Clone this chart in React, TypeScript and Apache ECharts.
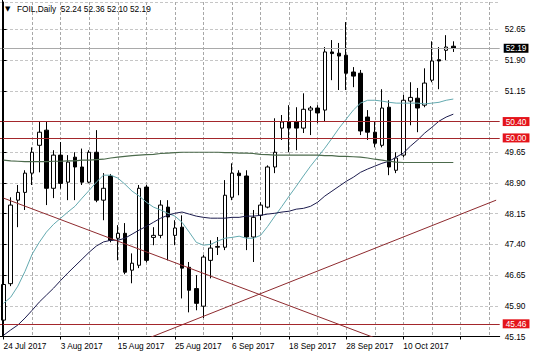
import React, { useEffect, useRef } from 'react';
import * as echarts from 'echarts';

const dates: string[] = [
  '24 Jul 2017', '25 Jul 2017', '26 Jul 2017', '27 Jul 2017', '28 Jul 2017', '31 Jul 2017',
  '1 Aug 2017', '2 Aug 2017', '3 Aug 2017', '4 Aug 2017', '7 Aug 2017', '8 Aug 2017', '9 Aug 2017',
  '10 Aug 2017', '11 Aug 2017', '14 Aug 2017', '15 Aug 2017', '16 Aug 2017', '17 Aug 2017', '18 Aug 2017',
  '21 Aug 2017', '22 Aug 2017', '23 Aug 2017', '24 Aug 2017', '25 Aug 2017', '28 Aug 2017', '29 Aug 2017',
  '30 Aug 2017', '31 Aug 2017', '1 Sep 2017', '4 Sep 2017', '5 Sep 2017', '6 Sep 2017', '7 Sep 2017',
  '8 Sep 2017', '11 Sep 2017', '12 Sep 2017', '13 Sep 2017', '14 Sep 2017', '15 Sep 2017', '18 Sep 2017',
  '19 Sep 2017', '20 Sep 2017', '21 Sep 2017', '22 Sep 2017', '25 Sep 2017', '26 Sep 2017', '27 Sep 2017',
  '28 Sep 2017', '29 Sep 2017', '2 Oct 2017', '3 Oct 2017', '4 Oct 2017', '5 Oct 2017', '6 Oct 2017',
  '9 Oct 2017', '10 Oct 2017', '11 Oct 2017', '12 Oct 2017', '13 Oct 2017', '16 Oct 2017', '17 Oct 2017',
  '18 Oct 2017', '19 Oct 2017',
];
// empty slots on the right side of the chart (chart shift)
const futureSlots: string[] = ['', '', '', '', '', ''];

const opens: number[] = [
  45.55, 46.44, 48.48, 48.67, 49.14, 49.82, 50.19, 48.77, 49.58, 48.92,
  49.53, 49.29, 48.92, 49.65, 48.48, 49.07, 47.55, 47.67, 46.77, 46.89,
  48.80, 47.57, 47.62, 48.31, 47.62, 47.82, 46.84, 46.32, 45.89, 47.01,
  47.33, 47.33, 48.55, 49.14, 49.07, 47.58, 48.11, 48.31, 49.29, 50.24,
  50.39, 50.39, 50.24, 50.68, 50.73, 50.68, 52.10, 52.07, 52.02, 51.61,
  51.58, 50.51, 50.14, 49.82, 50.75, 49.21, 49.58, 50.90, 50.97, 50.80,
  51.41, 51.91, 52.14, 52.24,
];
const highs: number[] = [
  46.60, 48.55, 48.85, 49.21, 49.77, 50.39, 50.41, 49.70, 49.90, 49.58,
  49.65, 49.74, 49.70, 50.19, 49.14, 49.12, 47.87, 47.92, 47.18, 48.85,
  48.85, 47.82, 48.48, 48.48, 47.99, 48.11, 46.97, 46.65, 47.14, 47.50,
  47.58, 48.97, 49.38, 49.21, 49.21, 48.24, 48.43, 49.33, 50.48, 50.56,
  50.80, 50.75, 51.09, 50.78, 50.80, 52.22, 52.39, 52.32, 52.83, 51.73,
  51.66, 50.68, 50.39, 51.19, 50.92, 49.65, 51.05, 51.36, 51.22, 51.70,
  52.36, 52.22, 52.51, 52.36,
];
const lows: number[] = [
  45.46, 46.38, 47.82, 48.24, 48.85, 49.16, 48.36, 48.53, 48.76, 48.48,
  48.48, 48.85, 48.89, 48.43, 47.99, 47.45, 47.01, 46.67, 46.45, 46.82,
  46.96, 47.38, 47.55, 47.01, 47.38, 46.08, 45.74, 45.79, 45.60, 46.57,
  47.14, 47.26, 48.48, 48.60, 47.26, 46.97, 47.99, 48.28, 49.14, 49.95,
  49.65, 49.70, 50.12, 50.07, 50.36, 50.39, 51.41, 51.17, 51.17, 51.24,
  50.07, 49.95, 49.77, 49.77, 49.09, 49.14, 49.53, 50.31, 50.14, 50.75,
  51.36, 51.19, 51.90, 52.10,
];
const closes: number[] = [
  46.42, 48.36, 48.67, 49.14, 49.65, 50.14, 48.77, 49.58, 48.89, 49.41,
  49.29, 48.92, 49.65, 48.48, 48.77, 47.50, 47.67, 46.72, 46.94, 48.77,
  47.01, 47.62, 48.36, 48.07, 47.80, 46.82, 46.28, 45.96, 47.09, 47.31,
  47.35, 48.60, 49.14, 49.08, 47.58, 48.06, 48.36, 49.29, 49.65, 50.39,
  50.24, 50.24, 50.70, 50.73, 50.61, 52.10, 52.06, 52.00, 51.58, 51.51,
  50.17, 50.14, 49.87, 50.73, 49.29, 49.51, 50.92, 50.99, 50.73, 51.34,
  51.88, 51.88, 52.22, 52.19,
];

const maFast: number[] = [
  45.96, 46.11, 46.38, 46.74, 47.16, 47.45, 47.70, 47.89, 48.04, 48.19,
  48.33, 48.53, 48.72, 48.92, 49.09, 49.09, 49.02, 48.87, 48.70, 48.58,
  48.43, 48.31, 48.24, 48.16, 48.09, 47.94, 47.70, 47.45, 47.38, 47.40,
  47.48, 47.55, 47.57, 47.60, 47.55, 47.55, 47.62, 47.84, 48.09, 48.33,
  48.58, 48.82, 49.07, 49.31, 49.53, 49.75, 49.99, 50.24, 50.46, 50.68,
  50.85, 50.92, 50.92, 50.90, 50.87, 50.85, 50.85, 50.85, 50.85, 50.83,
  50.85, 50.87, 50.92, 50.95,
];
const maMid: number[] = [
  45.18, 45.31, 45.43, 45.60, 45.79, 45.99, 46.16, 46.33, 46.52, 46.70,
  46.87, 47.04, 47.21, 47.36, 47.46, 47.50, 47.50, 47.55, 47.65, 47.75,
  47.84, 47.94, 48.04, 48.11, 48.16, 48.19, 48.14, 48.09, 48.06, 48.04,
  48.04, 48.04, 48.06, 48.06, 48.09, 48.09, 48.11, 48.14, 48.16, 48.19,
  48.21, 48.26, 48.28, 48.33, 48.43, 48.58, 48.70, 48.82, 48.94, 49.04,
  49.16, 49.24, 49.31, 49.38, 49.43, 49.53, 49.63, 49.80, 49.95, 50.12,
  50.26, 50.41, 50.51, 50.58,
];
const maSlow: number[] = [
  49.46, 49.44, 49.43, 49.42, 49.42, 49.42, 49.42, 49.43, 49.43, 49.44,
  49.44, 49.46, 49.46, 49.47, 49.48, 49.51, 49.53, 49.55, 49.57, 49.58,
  49.59, 49.60, 49.62, 49.63, 49.64, 49.65, 49.65, 49.65, 49.65, 49.65,
  49.65, 49.64, 49.64, 49.63, 49.63, 49.62, 49.60, 49.59, 49.58, 49.58,
  49.58, 49.58, 49.58, 49.58, 49.58, 49.57, 49.57, 49.55, 49.55, 49.54,
  49.53, 49.51, 49.48, 49.46, 49.43, 49.41, 49.40, 49.40, 49.40, 49.40,
  49.40, 49.40, 49.40, 49.40,
];

// trend lines: [category index, price] anchor points
const trendDown: [number, number][] = [[0, 48.53], [69, 44.0]];
const trendUp: [number, number][] = [[19, 45.02], [69, 48.48]];

// horizontal levels
const bidPrice = 52.19;
const levels: number[] = [50.4, 50.0, 45.46];

const yMin = 45.15;
const yMax = 53.32;
const yStep = 0.75;
const gridEvery = 4; // vertical grid line every 4 bars

const FONT = 'Liberation Sans, Arial, sans-serif';
const LEVEL_COLOR = '#a3262b';
const TREND_COLOR = '#8e2a2e';
const GRID_COLOR = '#c6c6c6';
const VGRID_COLOR = '#a8a8a8';

export default function App() {
  const ref = useRef<HTMLDivElement>(null);

  useEffect(() => {
    if (!ref.current) return;
    const chart = echarts.init(ref.current, undefined, { renderer: 'svg' });
    const categories = [...dates, ...futureSlots];
    const candles = opens.map((o, i) => [o, closes[i], lows[i], highs[i]]);
    const gridLine = { color: GRID_COLOR, type: [3, 2] as any, width: 1 };
    const vGridLine = { color: VGRID_COLOR, type: [3, 2] as any, width: 1 };
    const vTicks: number[] = [];
    for (let i = 0; i < categories.length; i += gridEvery) vTicks.push(i);

    const levelLines = levels.map((v) => ({
      yAxis: v,
      lineStyle: { color: LEVEL_COLOR, type: 'solid', width: 1 },
      label: {
        show: true,
        position: 'end',
        distance: 3,
        formatter: (p: any) => Number(p.value).toFixed(2),
        backgroundColor: '#e4141b',
        color: '#ffffff',
        padding: [1, 3, 0, 3],
        fontSize: 8.3,
        fontFamily: FONT,
      },
    }));

    const option: any = {
      animation: false,
      backgroundColor: '#ffffff',
      textStyle: { fontFamily: FONT },
      title: {
        left: 5,
        top: 5,
        padding: 0,
        text: '{t|▼}FOIL,Daily  52.24 52.36 52.10 52.19',
        textStyle: {
          fontSize: 8.3,
          fontWeight: 'normal',
          color: '#000',
          fontFamily: FONT,
          rich: {
            t: { fontSize: 7, fontFamily: 'DejaVu Sans', color: '#000', width: 12 },
          },
        },
      },
      graphic: [
        {
          type: 'line',
          silent: true,
          z: 10,
          shape: { x1: 2.5, y1: 0, x2: 2.5, y2: 337 },
          style: { stroke: '#000', lineWidth: 1 },
        },
      ],
      grid: { left: -0.9, right: 36.3, top: 2, bottom: 20.5 },
      xAxis: [
        {
          type: 'category',
          data: categories,
          boundaryGap: true,
          axisLine: { show: true, lineStyle: { color: '#000', width: 1 } },
          axisTick: { show: true, interval: 7, alignWithLabel: true, length: 3, lineStyle: { color: '#000' } },
          axisLabel: {
            interval: 7,
            align: 'left',
            margin: 5,
            fontSize: 8.3,
            color: '#000',
            fontFamily: FONT,
          },
          splitLine: { show: false },
        },
        {
          // helper axis: value i sits at the centre of category i; only draws the vertical grid
          type: 'value',
          position: 'top',
          min: -0.5,
          max: categories.length - 0.5,
          axisLine: { show: false },
          axisLabel: { show: false },
          axisTick: { show: false, customValues: vTicks },
          splitLine: { show: true, lineStyle: vGridLine },
        },
      ],
      yAxis: {
        type: 'value',
        position: 'right',
        min: yMin,
        max: yMax,
        interval: yStep,
        axisLine: { show: true, lineStyle: { color: '#000', width: 1 } },
        axisTick: { show: true, length: 3, lineStyle: { color: '#000' } },
        axisLabel: {
          margin: 5,
          fontSize: 8.3,
          color: '#000',
          fontFamily: FONT,
          showMaxLabel: false,
          formatter: (v: number) => v.toFixed(2),
        },
        splitLine: { show: true, lineStyle: gridLine },
      },
      series: [
        {
          name: 'FOIL',
          type: 'candlestick',
          data: candles,
          barWidth: 4,
          itemStyle: {
            color: '#ffffff',
            color0: '#000000',
            borderColor: '#000000',
            borderColor0: '#000000',
            borderWidth: 1,
          },
          markLine: {
            silent: true,
            symbol: ['none', 'none'],
            animation: false,
            data: [
              {
                yAxis: bidPrice,
                lineStyle: { color: '#a9a9a9', type: 'solid', width: 1 },
                label: {
                  show: true,
                  position: 'end',
                  distance: 4,
                  formatter: (p: any) => Number(p.value).toFixed(2),
                  backgroundColor: '#000000',
                  color: '#ffffff',
                  padding: [1, 2, 0, 2],
                  fontSize: 8.3,
                  fontFamily: FONT,
                },
              },
              ...levelLines,
            ],
          },
        },
        { name: 'MA fast', type: 'line', data: maFast, symbol: 'none', lineStyle: { color: '#64aab0', width: 1 }, z: 3 },
        { name: 'MA mid', type: 'line', data: maMid, symbol: 'none', lineStyle: { color: '#1c1c4e', width: 1 }, z: 3 },
        { name: 'MA slow', type: 'line', data: maSlow, symbol: 'none', lineStyle: { color: '#4c6a4c', width: 1.2 }, z: 3 },
        { name: 'Trend down', type: 'line', data: trendDown, symbol: 'none', clip: true, lineStyle: { color: TREND_COLOR, width: 1 }, z: 3 },
        { name: 'Trend up', type: 'line', data: trendUp, symbol: 'none', clip: true, lineStyle: { color: TREND_COLOR, width: 1 }, z: 3 },
      ],
    };

    chart.setOption(option);
    return () => {
      chart.dispose();
    };
  }, []);

  return (
    <div
      ref={ref}
      style={{ position: 'fixed', left: 0, top: 0, width: 536, height: 357, background: '#fff' }}
    />
  );
}
